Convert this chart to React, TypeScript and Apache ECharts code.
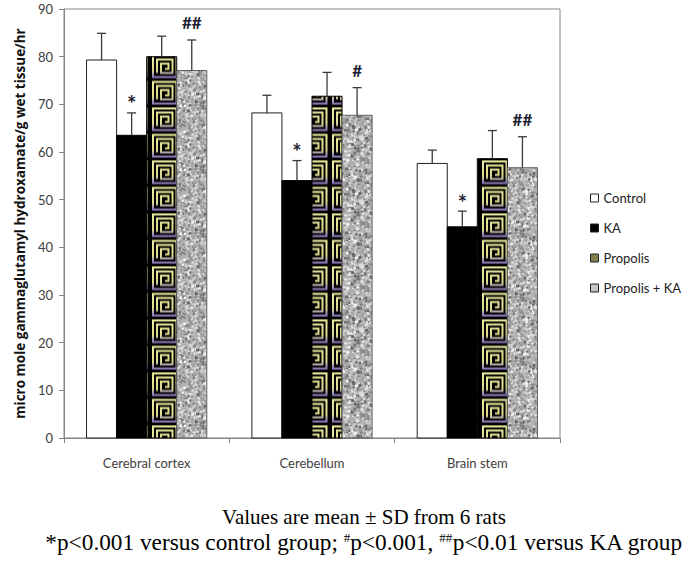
import React, { useEffect, useRef } from 'react';
import * as echarts from 'echarts';

const categories = ['Cerebral cortex', 'Cerebellum', 'Brain stem'];
const seriesNames = ['Control', 'KA', 'Propolis', 'Propolis + KA'];
const controlMean = [79.3, 68.2, 57.6];
const controlSD = [5.6, 3.7, 2.8];
const kaMean = [63.5, 54.0, 44.3];
const kaSD = [4.7, 4.2, 3.3];
const propolisMean = [80.0, 71.7, 58.6];
const propolisSD = [4.3, 5.0, 5.9];
const propolisKaMean = [77.1, 67.7, 56.7];
const propolisKaSD = [6.4, 5.8, 6.5];
const kaMarks = ['*', '*', '*'];
const propolisKaMarks = ['##', '#', '##'];
const yMin = 0;
const yMax = 90;
const yInterval = 10;
const captionLine1 = 'Values are mean ± SD from 6 rats';
const captionLine2 = '*p<0.001 versus control group; {sup|#}p<0.001, {sup|##}p<0.01 versus KA group';

const TILE_W = 30;
const TILE_H = 26.5;

function makeSpiralTile(): string {
  const c = document.createElement('canvas');
  const scale = 4;
  c.width = TILE_W * scale;
  c.height = Math.round(TILE_H * scale);
  const ctx = c.getContext('2d')!;
  ctx.scale(scale, scale);
  ctx.fillStyle = '#000';
  ctx.fillRect(0, 0, TILE_W, TILE_H);
  const x0 = 3, y0 = 2.5, w = 23.5, h = 21.5;
  const g = ctx.createLinearGradient(0, y0, 0, y0 + h);
  g.addColorStop(0, '#eeeea0');
  g.addColorStop(0.7, '#dcd88c');
  g.addColorStop(0.88, '#a898c0');
  g.addColorStop(1, '#8a78b8');
  ctx.strokeStyle = g;
  ctx.lineWidth = 2;
  ctx.strokeRect(x0, y0, w, h);
  let l = x0 + 4, t = y0 + 4, r = x0 + w - 4, b = y0 + h - 4;
  const pts: number[][] = [];
  pts.push([l, b]);
  while (r - l > 2 && b - t > 2) {
    pts.push([l, t]);
    pts.push([r, t]);
    pts.push([r, b]);
    l += 4;
    pts.push([l, b]);
    t += 4; r -= 4; b -= 4;
  }
  ctx.beginPath();
  ctx.moveTo(pts[0][0], pts[0][1]);
  for (let i = 1; i < pts.length; i++) ctx.lineTo(pts[i][0], pts[i][1]);
  ctx.lineWidth = 2;
  ctx.stroke();
  return c.toDataURL();
}

function makeGraniteTile(): string {
  const size = 64;
  const c = document.createElement('canvas');
  c.width = size;
  c.height = size;
  const ctx = c.getContext('2d')!;
  ctx.fillStyle = '#b2b2b2';
  ctx.fillRect(0, 0, size, size);
  let seed = 12345;
  const rnd = () => {
    seed = (seed * 1103515245 + 12345) % 2147483648;
    return seed / 2147483648;
  };
  const cols = ['#e6e6e6', '#d4d4d4', '#c6c6c6', '#8c8c8c', '#7a7a7a', '#9c9c9c', '#efefef', '#a4a4a4', '#686868'];
  for (let i = 0; i < 1000; i++) {
    const x = rnd() * size;
    const y = rnd() * size;
    const rr = 0.5 + rnd() * 1.3;
    ctx.fillStyle = cols[Math.floor(rnd() * cols.length)];
    for (const dx of [-size, 0, size]) {
      for (const dy of [-size, 0, size]) {
        ctx.beginPath();
        ctx.arc(x + dx, y + dy, rr, 0, Math.PI * 2);
        ctx.fill();
      }
    }
  }
  return c.toDataURL();
}

export default function App() {
  const ref = useRef<HTMLDivElement>(null);
  useEffect(() => {
    if (!ref.current) return;
    const chart = echarts.init(ref.current, null, { renderer: 'svg' });
    const spiral = makeSpiralTile();
    const granite = makeGraniteTile();

    const fills = [
      () => '#ffffff',
      () => '#000000',
      (x: number, y: number, bw: number) => ({
        image: spiral, repeat: 'repeat', imageWidth: TILE_W, imageHeight: TILE_H,
        x, y, scaleX: bw / TILE_W, scaleY: 1,
      }),
      (x: number, y: number) => ({
        image: granite, repeat: 'repeat', imageWidth: 64, imageHeight: 64, x, y,
      }),
    ];
    const strokes = ['#222222', '#000000', '#000000', '#606060'];
    const means = [controlMean, kaMean, propolisMean, propolisKaMean];
    const sds = [controlSD, kaSD, propolisSD, propolisKaSD];
    const marks: (string[] | null)[] = [null, kaMarks, null, propolisKaMarks];
    const legendColors = ['#ffffff', '#000000', '#857f50', '#c4c4c4'];

    const makeRenderItem = (k: number) => (params: any, api: any) => {
      const i = api.value(0);
      const mean = api.value(1);
      const sd = api.value(2);
      const base = api.coord([i, 0]);
      const top = api.coord([i, mean]);
      const errTop = api.coord([i, mean + sd]);
      const catW = api.size([1, 0])[0];
      const bw = catW / 5.5;
      const x = base[0] + (k - 2) * bw;
      const cx = x + bw / 2;
      const children: any[] = [
        {
          type: 'rect',
          shape: { x, y: top[1], width: bw, height: base[1] - top[1] },
          style: { fill: fills[k](x, top[1], bw), stroke: strokes[k], lineWidth: 1 },
        },
        {
          type: 'line',
          shape: { x1: cx, y1: top[1], x2: cx, y2: errTop[1] },
          style: { stroke: '#3a3a3a', lineWidth: 1.3 },
        },
        {
          type: 'line',
          shape: { x1: cx - 4.5, y1: errTop[1], x2: cx + 4.5, y2: errTop[1] },
          style: { stroke: '#3a3a3a', lineWidth: 1.3 },
        },
      ];
      const m = marks[k];
      if (m && m[i]) {
        const isStar = m[i] === '*';
        children.push({
          type: 'text',
          x: cx,
          y: errTop[1] - (isStar ? 9 : 17),
          style: {
            text: m[i],
            fill: '#1c2233',
            fontFamily: 'Lato',
            fontWeight: 'bold',
            fontSize: isStar ? 22 : 17,
            align: 'center',
            verticalAlign: 'middle',
          },
        });
      }
      return { type: 'group', children };
    };

    const series = seriesNames.map((name, k) => ({
      type: 'custom',
      name,
      renderItem: makeRenderItem(k),
      encode: { x: 0, y: 1 },
      itemStyle: { color: legendColors[k] },
      data: categories.map((_, i) => [i, means[k][i], sds[k][i]]),
    }));

    chart.setOption({
      animation: false,
      backgroundColor: '#ffffff',
      grid: {
        left: 64, right: 130, top: 9, bottom: 124,
        show: true, borderColor: '#868686', borderWidth: 1,
      },
      legend: {
        orient: 'vertical',
        left: 585,
        top: 186,
        icon: 'rect',
        itemWidth: 8,
        itemHeight: 8,
        itemGap: 16,
        textStyle: { fontFamily: 'Lato', fontSize: 13, color: '#222', lineHeight: 14 },
        data: seriesNames.map((name, k) => ({
          name,
          itemStyle: { color: legendColors[k], borderColor: '#222', borderWidth: 1 },
        })),
      },
      xAxis: {
        type: 'category',
        data: categories,
        axisLine: { lineStyle: { color: '#868686' } },
        axisTick: { show: true, length: 5, interval: 0, lineStyle: { color: '#868686' } },
        axisLabel: { fontFamily: 'Lato', fontSize: 13, color: '#404040', margin: 18 },
      },
      yAxis: {
        type: 'value',
        min: yMin,
        max: yMax,
        interval: yInterval,
        name: 'micro mole gammaglutamyl hydroxamate/g wet tissue/hr',
        nameLocation: 'middle',
        nameGap: 37,
        nameTextStyle: { fontFamily: 'Open Sans', fontWeight: 'bold', fontSize: 13.5, color: '#111' },
        axisLine: { show: true, lineStyle: { color: '#868686' } },
        axisTick: { show: true, length: 5, lineStyle: { color: '#868686' } },
        axisLabel: { fontFamily: 'Lato', fontSize: 13, color: '#404040', margin: 11 },
        splitLine: { show: false },
      },
      graphic: [
        {
          type: 'text',
          x: 364,
          y: 517,
          style: {
            text: captionLine1,
            fontFamily: 'Liberation Serif',
            fontSize: 21,
            lineHeight: 21,
            fill: '#000',
            align: 'center',
            verticalAlign: 'middle',
          },
        },
        {
          type: 'text',
          x: 364,
          y: 542,
          style: {
            text: captionLine2,
            fontFamily: 'Liberation Serif',
            fontSize: 23.3,
            lineHeight: 22,
            fill: '#000',
            align: 'center',
            verticalAlign: 'middle',
            rich: {
              sup: {
                fontFamily: 'Liberation Serif',
                fontSize: 13,
                lineHeight: 13,
                verticalAlign: 'top',
                fill: '#000',
              },
            },
          },
        },
      ],
      series,
    });
    return () => chart.dispose();
  }, []);
  return (
    <div
      ref={ref}
      style={{ position: 'absolute', left: 0, top: 0, width: 690, height: 562, background: '#fff' }}
    />
  );
}
